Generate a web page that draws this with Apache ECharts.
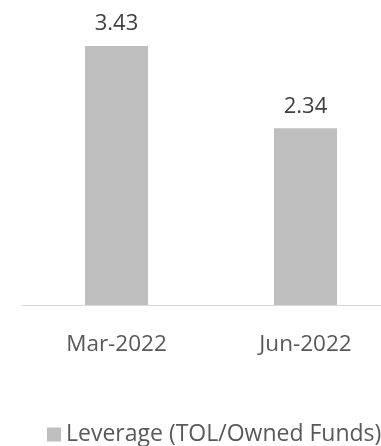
<!DOCTYPE html>
<html><head><meta charset="utf-8">
<script src="https://cdn.jsdelivr.net/npm/echarts@6/dist/echarts.min.js"></script>
<style>html,body{margin:0;padding:0;background:#fff}#c{width:381px;height:446px}</style>
</head><body><div id="c"></div>
<script>
const categories = ['Mar-2022', 'Jun-2022'];
const seriesName = 'Leverage (TOL/Owned Funds)';
const values = [3.43, 2.34];

const chart = echarts.init(document.getElementById('c'), null, {renderer: 'canvas'});
const font = '"Open Sans", sans-serif';
chart.setOption({
  animation: false,
  textStyle: {fontFamily: font},
  grid: {left: 22, width: 378, top: 3, height: 302, outerBoundsMode: 'none', containLabel: false},
  legend: {
    data: [seriesName], left: 47, top: 423, padding: 0, itemWidth: 14, itemHeight: 14, itemGap: 6,
    icon: 'rect', textStyle: {fontSize: 23, color: '#595959', fontFamily: font}
  },
  xAxis: {
    type: 'category', data: categories,
    axisLine: {lineStyle: {color: '#d9d9d9', width: 1}},
    axisTick: {show: false},
    axisLabel: {fontSize: 22.5, color: '#595959', margin: 28, fontFamily: font}
  },
  yAxis: {type: 'value', min: 0, max: 4, show: false, splitLine: {show: false}},
  series: [{
    name: seriesName, type: 'bar', data: values, barWidth: 63,
    itemStyle: {color: '#bfbfbf'},
    label: {show: true, position: 'top', distance: 11, fontSize: 22, color: '#404040', fontFamily: font,
      formatter: p => p.value.toFixed(2)}
  }]
});
</script></body></html>
